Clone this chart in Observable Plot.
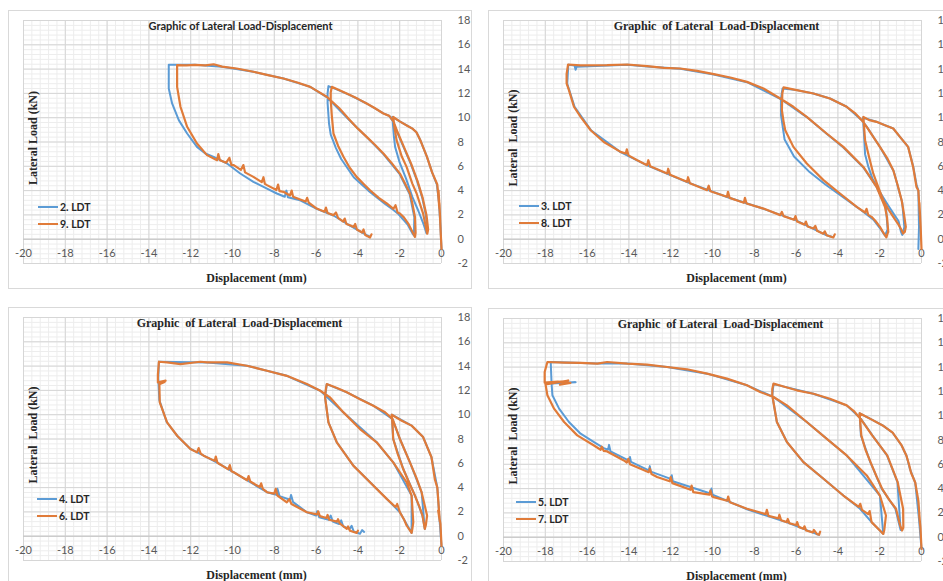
<!DOCTYPE html>
<html><head><meta charset="utf-8">
<script src="https://cdn.jsdelivr.net/npm/d3@7"></script>
<script src="https://cdn.jsdelivr.net/npm/@observablehq/plot@0.6"></script>
<style>
body{margin:0;background:#fff;}
#wrap{position:relative;width:943px;height:581px;overflow:hidden;background:#fff;}
.panel{position:absolute;width:464px;height:279px;}
.panel svg{display:block;outline:1px solid #d9d9d9;outline-offset:-1px;background:#fff;max-width:none !important;width:464px !important;height:279px !important;}
.panel svg text{white-space:pre;}
.legend{position:absolute;font:bold 10.5px Lato, "Open Sans", sans-serif;color:#262626;}
.legend .row{position:absolute;display:flex;align-items:center;white-space:nowrap;height:14px;}
.legend .sw{display:inline-block;width:20px;height:0;border-top:2px solid;margin-right:2px;}
</style></head>
<body><div id="wrap"></div>
<script>
const BLUE = "#5b9bd5", ORANGE = "#e07b39";
const xTicks = [-20,-18,-16,-14,-12,-10,-8,-6,-4,-2,0];
const yTicks = [-2,0,2,4,6,8,10,12,14,16,18];
const xMinor = d3.range(-20, 0.001, 0.4);
const yMinor = d3.range(-2, 18.001, 0.4);

// Panel 1: 2. LDT (blue) and 9. LDT (orange)
const ldt2 = [[0,-0.8],[-0.05,1.0],[-0.12,3.0],[-0.22,4.5],[-0.45,5.5],[-0.7,6.8],[-1.0,8.1],[-1.2,8.8],[-1.39,9.1],[-1.6,9.3],[-2.0,9.7],[-2.35,10.07],
[-2.28,8.5],[-2.22,7.6],[-2.0,6.3],[-1.7,5.0],[-1.4,3.5],[-1.1,2.3],[-0.85,1.2],[-0.72,0.5],[-0.68,0.7],
[-0.75,2.0],[-0.92,3.4],[-1.17,4.8],[-1.47,6.2],[-1.82,7.6],[-2.12,8.8],[-2.32,9.7],[-2.5,10.15],[-2.78,10.35],[-3.58,11.17],[-4.38,11.86],[-4.9,12.25],[-5.41,12.6],
[-5.45,12.0],[-5.45,11.2],[-5.38,9.5],[-5.3,8.6],[-5.05,7.5],[-4.8,6.6],[-4.2,5.1],[-3.5,4.0],[-2.7,2.9],[-2.3,2.4],[-2.05,2.05],[-1.62,1.2],[-1.4,0.5],[-1.32,0.3],
[-1.3,1.8],[-1.52,3.7],[-2.0,5.35],[-2.78,7.0],[-3.58,8.4],[-4.38,9.75],[-5.49,11.7],[-6.28,12.54],[-7.56,13.23],[-9.0,13.78],[-10.5,14.2],[-11.8,14.35],[-13.05,14.35],
[-13.05,12.4],[-12.89,11.17],[-12.57,9.8],[-12.17,8.7],[-11.7,7.6],[-11.3,7.05],[-10.9,6.78],[-10.26,6.23],[-9.63,5.41],[-9.0,4.72],[-8.35,4.17],[-7.88,3.76],[-7.5,3.49],[-7.42,4.0],[-7.35,3.45],[-6.76,3.2],[-5.97,2.5],[-5.17,1.95],[-4.38,1.12],[-3.58,0.33],[-3.42,0.2]];
const ldt9 = [[0,-0.8],[-0.05,1.0],[-0.1,3.0],[-0.06,1.5],[-0.14,4.0],[-0.1,2.5],[-0.2,4.5],[-0.45,5.5],[-0.7,6.8],[-1.0,8.1],[-1.2,8.8],[-1.39,9.1],[-1.6,9.3],[-2.0,9.7],[-2.31,10.07],
[-2.25,9.2],[-2.15,8.15],[-1.9,6.8],[-1.67,5.95],[-1.4,4.6],[-1.19,3.76],[-0.88,2.11],[-0.72,0.74],[-0.68,0.45],[-0.64,0.8],
[-0.72,2.0],[-0.9,3.4],[-1.15,4.8],[-1.45,6.2],[-1.8,7.6],[-2.1,8.8],[-2.3,9.7],[-2.5,10.15],[-2.78,10.35],[-3.2,10.8],[-3.58,11.17],[-4.0,11.55],[-4.38,11.86],[-4.8,12.2],[-5.25,12.54],
[-5.3,12.1],[-5.3,11.44],[-5.25,10.2],[-5.17,8.7],[-4.95,7.7],[-4.69,6.78],[-4.4,5.9],[-4.06,5.13],[-3.7,4.5],[-3.42,4.03],[-3.0,3.4],[-2.62,2.94],[-2.3,2.5],[-2.2,2.8],[-2.1,2.2],[-1.99,2.11],[-1.8,1.8],[-1.59,1.29],[-1.45,0.8],[-1.35,0.47],[-1.27,0.19],[-1.24,0.5],
[-1.27,1.84],[-1.4,3.0],[-1.51,3.76],[-1.75,4.6],[-1.99,5.4],[-2.4,6.3],[-2.78,7.05],[-3.2,7.8],[-3.58,8.42],[-4.0,9.1],[-4.38,9.8],[-4.9,10.8],[-5.49,11.72],[-5.9,12.15],[-6.28,12.54],[-6.9,12.9],[-7.56,13.23],[-8.3,13.5],[-9.0,13.78],[-9.8,14.05],[-10.5,14.2],[-10.9,14.4],[-11.3,14.3],[-11.8,14.35],[-12.2,14.3],[-12.65,14.32],
[-12.65,13.4],[-12.65,12.54],[-12.49,10.9],[-12.17,9.25],[-11.7,7.88],[-11.22,6.92],[-10.74,6.5],[-10.68,7.0],[-10.6,6.5],[-10.3,6.3],[-10.15,6.7],[-10.05,6.1],[-9.94,6.09],[-9.6,5.7],[-9.48,6.1],[-9.4,5.5],[-9.0,5.13],[-8.6,4.7],[-8.52,5.1],[-8.45,4.55],[-8.35,4.45],[-7.9,4.05],[-7.82,4.5],[-7.75,3.95],[-7.56,3.9],[-7.25,3.6],[-7.17,4.0],[-7.1,3.5],[-6.76,3.27],[-6.5,3.1],[-6.43,3.4],[-6.35,3.0],[-5.97,2.52],[-5.6,2.25],[-5.53,2.6],[-5.45,2.15],[-5.17,1.98],[-5.05,2.2],[-4.95,1.75],[-4.7,1.45],[-4.63,1.7],[-4.55,1.25],[-4.38,1.15],[-4.2,1.0],[-4.13,1.25],[-4.05,0.8],[-3.8,0.55],[-3.73,0.8],[-3.65,0.35],[-3.42,0.14],[-3.35,0.4]];

// Panel 2: 3. LDT (blue) and 8. LDT (orange)
const ldt3 = [[-0.15,-0.8],[-0.12,1.0],[-0.15,4.0],[-0.24,4.5],[-0.4,6.0],[-0.64,7.6],[-1.03,8.42],[-1.35,9.11],[-2.15,9.66],[-2.8,10.0],
[-2.75,8.6],[-2.7,7.0],[-2.55,6.0],[-2.35,5.0],[-2.0,3.9],[-1.6,2.8],[-1.3,2.0],[-1.1,1.5],[-0.98,0.6],[-0.92,0.35],
[-0.82,1.0],[-0.92,3.0],[-1.33,5.6],[-1.97,7.55],[-2.6,9.2],[-2.86,9.8],[-3.58,10.9],[-4.38,11.58],[-5.17,11.99],[-5.97,12.27],[-6.65,12.4],
[-6.72,11.6],[-6.72,10.2],[-6.55,8.2],[-6.1,6.8],[-5.4,5.6],[-4.6,4.5],[-3.7,3.4],[-2.9,2.4],[-2.3,1.6],[-1.9,0.7],[-1.75,0.3],
[-1.62,0.8],[-1.7,2.6],[-2.15,4.3],[-2.78,5.9],[-3.74,7.55],[-4.54,8.68],[-5.49,10.05],[-6.76,11.56],[-8.35,12.92],[-9.94,13.55],[-11.54,14.02],[-13.13,14.22],[-14.08,14.36],[-16.5,14.2],[-16.55,13.95],[-16.6,14.3],[-16.9,14.35],
[-16.95,12.8],[-16.6,10.9],[-15.8,8.95],[-14.4,7.17],[-13.13,6.07],[-11.22,4.7],[-9.31,3.47],[-7.56,2.5],[-6.0,1.55],[-4.54,0.32],[-4.3,0.2]];
const ldt8 = [[0,-0.8],[-0.04,1.0],[-0.1,3.0],[-0.05,1.2],[-0.15,4.0],[-0.24,4.3],[-0.4,5.95],[-0.64,7.6],[-1.03,8.42],[-1.35,9.11],[-1.75,9.38],[-2.15,9.66],[-2.5,9.8],[-2.78,10.07],
[-2.75,9.3],[-2.7,8.15],[-2.5,6.7],[-2.31,5.41],[-2.05,4.2],[-1.83,3.21],[-1.6,2.5],[-1.35,1.84],[-1.1,1.2],[-0.95,0.74],[-0.88,0.47],[-0.8,0.6],
[-0.75,1.02],[-0.85,2.2],[-0.95,3.21],[-1.15,4.5],[-1.35,5.68],[-1.65,6.7],[-1.99,7.6],[-2.3,8.4],[-2.62,9.25],[-2.86,9.8],[-3.2,10.4],[-3.58,10.9],[-4.38,11.58],[-5.17,11.99],[-5.97,12.27],[-6.6,12.49],
[-6.66,12.0],[-6.68,10.62],[-6.6,9.7],[-6.52,8.97],[-6.13,7.6],[-5.49,6.23],[-4.69,4.86],[-3.9,3.76],[-3.1,2.66],[-2.7,2.2],[-2.63,2.5],[-2.55,2.0],[-2.39,1.84],[-2.2,1.5],[-1.99,1.02],[-1.85,0.6],[-1.75,0.33],[-1.68,0.15],[-1.62,0.5],
[-1.59,0.6],[-1.65,1.8],[-1.75,2.66],[-2.15,4.31],[-2.78,5.95],[-3.74,7.6],[-4.54,8.7],[-5.49,10.07],[-6.13,10.9],[-6.76,11.58],[-7.56,12.4],[-8.35,12.95],[-9.15,13.31],[-9.94,13.58],[-10.74,13.86],[-11.54,14.05],[-12.33,14.1],[-13.13,14.24],[-14.08,14.38],[-15.04,14.32],[-16.31,14.3],[-16.91,14.38],
[-16.98,13.6],[-16.98,12.82],[-16.87,12.27],[-16.63,10.9],[-16.31,10.07],[-15.83,8.97],[-15.2,8.0],[-14.4,7.19],[-14.15,7.05],[-14.1,7.4],[-14.02,6.9],[-13.6,6.5],[-13.13,6.09],[-13.07,6.5],[-12.98,6.0],[-12.17,5.41],[-12.12,5.8],[-12.03,5.3],[-11.22,4.72],[-11.17,5.1],[-11.08,4.6],[-10.26,4.03],[-10.18,4.4],[-10.1,3.95],[-9.31,3.49],[-9.26,3.9],[-9.18,3.4],[-8.5,3.0],[-8.45,3.4],[-8.37,2.94],[-7.56,2.52],[-6.76,1.98],[-6.68,2.25],[-6.6,1.9],[-6.1,1.6],[-6.03,1.9],[-5.95,1.45],[-5.6,1.2],[-5.53,1.45],[-5.45,1.05],[-5.17,0.88],[-5.08,1.1],[-5.0,0.7],[-4.7,0.45],[-4.63,0.65],[-4.54,0.33],[-4.22,0.14],[-4.15,0.4]];

// Panel 3: 4. LDT (blue) and 6. LDT (orange)
const ldt4 = [[0,-0.8],[-0.1,1.5],[-0.2,4.0],[-0.48,6.5],[-0.88,8.16],[-1.43,9.1],[-2.38,10.0],
[-2.31,8.0],[-1.83,5.53],[-1.27,3.34],[-0.91,1.7],[-0.8,0.6],
[-0.95,3.6],[-1.51,6.08],[-1.99,8.0],[-2.34,9.64],[-3.26,10.74],[-4.53,11.84],[-5.49,12.52],
[-5.57,11.42],[-5.41,9.37],[-5.01,7.73],[-4.22,5.81],[-3.42,4.44],[-2.62,3.07],[-1.99,1.97],[-1.43,0.27],
[-1.43,3.34],[-2.31,6.08],[-3.1,7.73],[-4.69,10.19],[-5.8,11.97],[-7.4,13.2],[-9.31,14.03],[-11.22,14.3],[-13.52,14.36],
[-13.55,13.0],[-13.5,11.2],[-13.15,9.4],[-12.65,8.27],[-12.01,7.18],[-11.38,6.63],[-10.74,6.05],[-9.94,5.26],[-9.15,4.44],[-8.35,3.62],[-7.9,3.4],[-7.85,3.9],[-7.75,3.3],[-7.25,3.0],[-7.2,3.4],[-7.1,2.8],[-6.44,1.97],[-6.0,1.7],[-5.95,2.05],[-5.85,1.55],[-5.4,1.35],[-5.3,1.7],[-5.2,1.2],[-4.9,1.0],[-4.8,1.3],[-4.7,0.8],[-4.4,0.6],[-4.3,0.85],[-4.2,0.4],[-3.9,0.2],[-3.8,0.5],[-3.7,0.35]];
const ldt6 = [[0,-0.8],[-0.05,1.0],[-0.16,2.1],[-0.08,1.2],[-0.2,4.0],[-0.32,4.7],[-0.48,6.5],[-0.88,8.16],[-1.43,9.1],[-1.9,9.5],[-2.38,10.0],
[-2.34,9.0],[-2.31,8.0],[-2.1,6.8],[-1.83,5.53],[-1.55,4.4],[-1.27,3.34],[-1.05,2.4],[-0.91,1.7],[-0.8,0.6],[-0.75,0.9],
[-0.69,1.7],[-0.95,3.6],[-1.2,4.8],[-1.51,6.08],[-1.99,8.0],[-2.34,9.64],[-2.7,10.2],[-3.26,10.74],[-3.9,11.28],[-4.53,11.84],[-5.0,12.2],[-5.49,12.52],
[-5.55,11.9],[-5.57,11.42],[-5.41,9.37],[-5.01,7.73],[-4.22,5.81],[-3.42,4.44],[-2.62,3.07],[-2.2,2.4],[-2.12,2.65],[-1.99,1.97],[-1.8,1.4],[-1.67,0.88],[-1.43,0.27],[-1.4,0.55],
[-1.35,1.15],[-1.43,3.34],[-1.67,4.44],[-2.31,6.08],[-3.1,7.73],[-3.9,8.82],[-4.69,10.19],[-5.33,11.42],[-5.8,11.97],[-6.44,12.52],[-7.4,13.2],[-8.35,13.62],[-9.31,14.03],[-10.26,14.3],[-11.22,14.3],[-11.54,14.36],[-12.49,14.16],[-13.13,14.3],[-13.52,14.36],
[-13.57,13.3],[-13.57,12.66],[-13.2,12.8],[-13.45,12.6],[-13.25,12.7],[-13.5,12.5],[-13.48,11.01],[-13.13,9.37],[-12.65,8.27],[-12.01,7.18],[-11.7,6.9],[-11.62,7.25],[-11.52,6.8],[-11.38,6.63],[-10.85,6.2],[-10.8,6.55],[-10.72,6.05],[-10.2,5.5],[-10.13,5.85],[-10.05,5.35],[-9.94,5.26],[-9.3,4.6],[-9.23,4.95],[-9.15,4.5],[-8.7,4.05],[-8.63,4.35],[-8.55,3.9],[-8.35,3.62],[-8.0,3.5],[-7.93,3.9],[-7.85,3.35],[-7.4,2.79],[-7.28,3.05],[-7.18,2.65],[-6.44,1.97],[-5.95,1.8],[-5.9,2.05],[-5.82,1.65],[-5.5,1.5],[-5.45,1.75],[-5.37,1.35],[-5.0,1.2],[-4.95,1.4],[-4.87,1.05],[-4.53,0.6],[-4.47,0.8],[-4.38,0.45],[-4.06,0.27],[-4.0,0.45]];

// Panel 4: 5. LDT (blue) and 7. LDT (orange)
const ldt5 = [[0,-0.96],[-0.12,1.5],[-0.3,4.5],[-0.55,5.6],[-0.72,6.7],[-0.95,7.55],[-1.38,8.6],[-1.86,9.2],[-2.4,9.7],[-2.96,10.2],
[-2.9,8.38],[-2.45,6.18],[-1.9,3.98],[-1.25,2.34],[-1.0,0.6],
[-1.15,4.53],[-1.65,6.73],[-2.35,8.38],[-2.9,9.75],[-3.58,10.85],[-5.17,11.81],[-7.08,12.6],
[-7.14,11.68],[-6.92,9.48],[-6.44,7.83],[-5.65,6.18],[-4.69,4.81],[-3.74,3.43],[-2.94,2.34],[-2.39,1.24],[-1.83,0.27],
[-1.99,3.43],[-3.58,6.73],[-5.49,9.48],[-7.08,11.54],[-8.35,12.5],[-10.26,13.46],[-12.17,14.01],[-14.08,14.29],[-15.5,14.3],[-17.74,14.42],
[-17.72,13.5],[-17.7,12.7],[-16.55,12.75],[-17.7,12.65],[-17.66,11.68],[-17.34,10.58],[-16.87,9.48],[-16.31,8.52],[-15.67,7.83],[-15.2,7.33],[-15.0,7.2],[-14.95,7.6],[-14.88,7.06],[-14.0,6.3],[-13.95,6.6],[-13.9,6.2],[-13.05,5.5],[-13.0,5.85],[-12.95,5.4],[-12.0,4.8],[-11.95,5.1],[-11.9,4.6],[-10.1,3.6],[-10.05,4.0],[-10.0,3.5],[-8.35,2.3],[-6.44,1.22],[-5.01,0.25],[-4.9,0.2]];
const ldt7 = [[0,-0.96],[-0.05,0.8],[-0.11,1.79],[-0.06,0.9],[-0.15,3.0],[-0.3,4.5],[-0.5,5.3],[-0.6,6.0],[-0.72,6.7],[-0.95,7.55],[-1.38,8.6],[-1.86,9.2],[-2.4,9.7],[-2.96,10.2],
[-2.92,9.2],[-2.88,8.38],[-2.68,7.2],[-2.44,6.18],[-2.15,5.0],[-1.88,3.98],[-1.55,3.1],[-1.22,2.34],[-1.02,0.96],[-0.93,0.55],[-0.87,0.8],
[-0.88,2.34],[-1.14,4.53],[-1.64,6.73],[-2.36,8.38],[-2.92,9.75],[-3.25,10.4],[-3.58,10.85],[-4.38,11.4],[-5.17,11.81],[-5.97,12.09],[-6.6,12.4],[-7.08,12.64],
[-7.14,12.2],[-7.14,11.68],[-6.92,9.48],[-6.44,7.83],[-5.65,6.18],[-4.69,4.81],[-3.74,3.43],[-3.0,2.5],[-2.93,2.75],[-2.85,2.25],[-2.55,1.9],[-2.48,2.15],[-2.39,1.24],[-1.99,0.55],[-1.83,0.27],[-1.78,0.6],
[-1.7,1.79],[-1.99,3.43],[-2.62,5.08],[-3.58,6.73],[-4.53,8.1],[-5.49,9.48],[-6.44,10.85],[-7.08,11.54],[-7.72,11.95],[-8.35,12.5],[-9.31,13.05],[-10.26,13.46],[-11.22,13.82],[-12.17,14.01],[-13.13,14.2],[-14.08,14.29],[-15.04,14.42],[-15.51,14.29],[-16.31,14.34],[-17.1,14.37],[-17.9,14.42],
[-18.03,13.6],[-18.03,12.72],[-17.4,12.8],[-16.8,12.7],[-17.3,12.55],[-16.9,12.9],[-17.9,12.6],[-18.0,12.7],[-17.9,11.68],[-17.58,10.58],[-17.1,9.48],[-16.47,8.38],[-15.67,7.55],[-15.35,7.2],[-15.3,7.45],[-15.2,7.1],[-15.04,7.06],[-14.24,6.32],[-14.1,6.15],[-14.03,6.45],[-13.95,6.0],[-13.44,5.63],[-13.05,5.35],[-13.0,5.65],[-12.92,5.2],[-12.65,4.95],[-12.05,4.6],[-12.0,4.95],[-11.92,4.45],[-11.05,3.9],[-11.0,4.25],[-10.92,3.71],[-10.15,3.5],[-10.1,3.85],[-10.02,3.35],[-9.94,3.3],[-9.3,3.0],[-9.25,3.35],[-9.17,2.88],[-8.35,2.34],[-7.45,1.9],[-7.4,2.25],[-7.32,1.75],[-6.85,1.55],[-6.8,1.85],[-6.72,1.4],[-6.44,1.24],[-6.4,1.5],[-6.32,1.15],[-6.0,1.0],[-5.95,1.25],[-5.87,0.85],[-5.65,0.69],[-5.6,0.9],[-5.52,0.55],[-5.2,0.4],[-5.15,0.6],[-5.01,0.27],[-4.9,0.2],[-4.85,0.45]];

const SERIF = "'Liberation Serif','Times New Roman',serif";
const SANS = "Lato,'Open Sans',sans-serif";
const panels = [
  {left:8, top:10, blue:ldt2, orange:ldt9, names:["2. LDT","9. LDT"], title:"Graphic of Lateral Load-Displacement", tfont:SANS, tsize:11, tdx:8, ylab:"Lateral Load (kN)", leg:[30,190]},
  {left:488, top:10, blue:ldt3, orange:ldt8, names:["3. LDT","8. LDT"], title:"Graphic  of Lateral  Load-Displacement", tfont:SERIF, tsize:12, tdx:4, ylab:"Lateral  Load (kN)", leg:[31,189]},
  {left:8, top:307, blue:ldt4, orange:ldt6, names:["4. LDT","6. LDT"], title:"Graphic  of Lateral  Load-Displacement", tfont:SERIF, tsize:12, tdx:7, ylab:"Lateral  Load (kN)", leg:[29,185]},
  {left:488, top:308, blue:ldt5, orange:ldt7, names:["5. LDT","7. LDT"], title:"Graphic  of Lateral  Load-Displacement", tfont:SERIF, tsize:12, tdx:8, ylab:"Lateral  Load (kN)", leg:[28,187]}
];

const wrap = document.getElementById("wrap");
for (const c of panels) {
  const div = document.createElement("div");
  div.className = "panel";
  div.style.left = c.left + "px";
  div.style.top = c.top + "px";
  const plot = Plot.plot({
    width: 464, height: 279,
    marginLeft: 15, marginRight: 31, marginTop: 10, marginBottom: 26,
    x: {domain: [-20, 0], label: null},
    y: {domain: [-2, 18], label: null},
    style: {fontFamily: SANS, background: "#fff", overflow: "visible"},
    marks: [
      Plot.gridX(xMinor, {stroke: "#ededed", strokeOpacity: 1}),
      Plot.gridY(yMinor, {stroke: "#ededed", strokeOpacity: 1}),
      Plot.gridX(xTicks, {stroke: "#d6d6d6", strokeOpacity: 1}),
      Plot.gridY(yTicks, {stroke: "#d6d6d6", strokeOpacity: 1}),
      Plot.ruleY([0], {stroke: "#c4c4c4"}),
      Plot.axisX({ticks: xTicks, anchor: "bottom", tickSize: 0, tickPadding: 0, dy: -14, tickFormat: d => String(d), fontSize: 11, color: "#595959", label: null}),
      Plot.axisY({ticks: yTicks, anchor: "right", tickSize: 0, tickPadding: 16, tickFormat: d => String(d), fontSize: 11, color: "#595959", label: null}),
      Plot.line(c.blue, {x: d => d[0], y: d => d[1], stroke: BLUE, strokeWidth: 2, strokeLinejoin: "round", strokeLinecap: "round"}),
      Plot.line(c.orange, {x: d => d[0], y: d => d[1], stroke: ORANGE, strokeWidth: 2.2, strokeLinejoin: "round", strokeLinecap: "round"}),
      Plot.text([c.title], {frameAnchor: "top", dx: c.tdx, dy: 5.5, lineAnchor: "middle", textAnchor: "middle", fontFamily: c.tfont, fontWeight: "bold", fontSize: c.tsize, fill: "#262626"}),
      Plot.text([c.ylab], {frameAnchor: "left", dx: 10, dy: -4, rotate: -90, lineAnchor: "middle", textAnchor: "middle", fontFamily: SERIF, fontWeight: "bold", fontSize: 12, fill: "#262626"}),
      Plot.text(["Displacement (mm)"], {frameAnchor: "bottom", dx: 24, dy: 15, lineAnchor: "middle", textAnchor: "middle", fontFamily: SERIF, fontWeight: "bold", fontSize: 12, fill: "#262626"})
    ]
  });
  div.appendChild(plot);
  const leg = document.createElement("div");
  leg.className = "legend";
  leg.style.left = c.leg[0] + "px";
  leg.style.top = c.leg[1] + "px";
  [[c.names[0], BLUE], [c.names[1], ORANGE]].forEach(([name, col], i) => {
    const row = document.createElement("div");
    row.className = "row";
    row.style.top = (i * 17) + "px";
    const sw = document.createElement("span");
    sw.className = "sw";
    sw.style.borderTopColor = col;
    row.appendChild(sw);
    row.appendChild(document.createTextNode(name));
    leg.appendChild(row);
  });
  div.appendChild(leg);
  wrap.appendChild(div);
}
</script>
</body></html>
